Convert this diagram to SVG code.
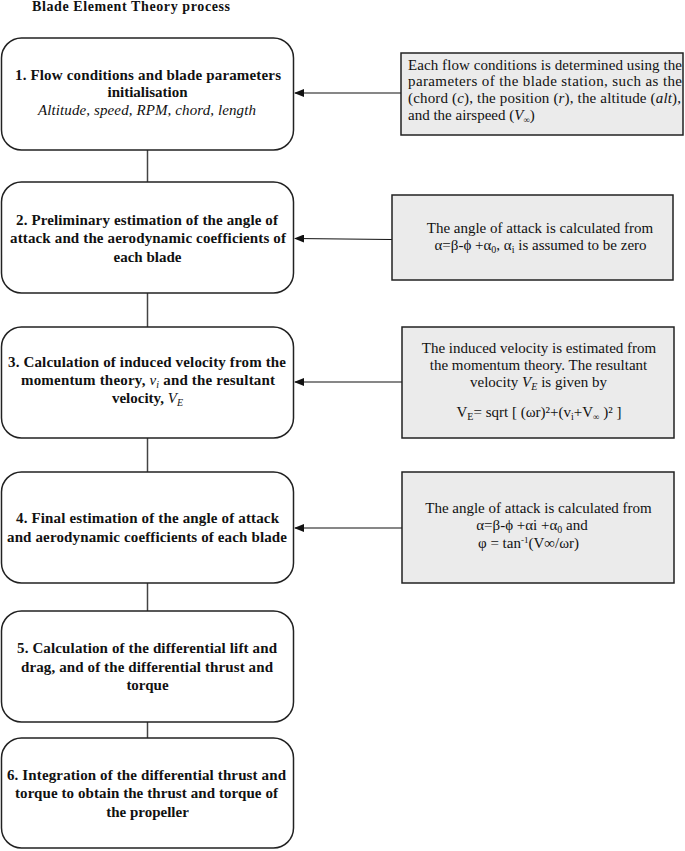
<svg xmlns="http://www.w3.org/2000/svg" width="685" height="851" viewBox="0 0 685 851">
<style>
text{font-family:"Liberation Serif","Times New Roman",serif;font-size:15px;fill:#111}
.t{font-size:14px}
.b{font-weight:bold}
.i{font-style:italic}
.nb{font-weight:normal}
.c{text-anchor:middle}
.step{fill:#fff;stroke:#222;stroke-width:1.5}
.note{fill:#ebebeb;stroke:#222;stroke-width:1.5}
.link{stroke:#444;stroke-width:1.5;fill:none}
.arr{stroke:#111;stroke-width:1.2;fill:none}
</style>
<defs>
<marker id="ah" markerWidth="10" markerHeight="8" refX="9" refY="4" orient="auto" markerUnits="userSpaceOnUse">
<path d="M0,0 L10,4 L0,8 z" fill="#111"/>
</marker>
</defs>
<text class="b t" x="32" y="11" textLength="198" lengthAdjust="spacing">Blade Element Theory process</text>

<g id="connectors">
<line class="link" x1="147.5" y1="150" x2="147.5" y2="182"/>
<line class="link" x1="147.5" y1="293" x2="147.5" y2="327"/>
<line class="link" x1="147.5" y1="438" x2="147.5" y2="472"/>
<line class="link" x1="147.5" y1="583" x2="147.5" y2="611"/>
<line class="link" x1="147.5" y1="722" x2="147.5" y2="738"/>
<line class="arr" x1="401" y1="93" x2="295" y2="93" marker-end="url(#ah)"/>
<line class="arr" x1="392" y1="239.5" x2="295" y2="238.5" marker-end="url(#ah)"/>
<line class="arr" x1="402" y1="382" x2="295" y2="382" marker-end="url(#ah)"/>
<line class="arr" x1="402" y1="528" x2="295" y2="528" marker-end="url(#ah)"/>
</g>

<g id="step1">
<rect class="step" x="1.5" y="38" width="292" height="112" rx="20"/>
<text class="b" x="15" y="80" textLength="266" lengthAdjust="spacing">1. Flow conditions and blade parameters</text>
<text class="b c" x="147.5" y="97">initialisation</text>
<text class="i" x="38" y="115" textLength="218" lengthAdjust="spacing">Altitude, speed, RPM, chord, length</text>
</g>

<g id="step2">
<rect class="step" x="1.5" y="182" width="292" height="111" rx="20"/>
<text class="b" x="16" y="225" textLength="262" lengthAdjust="spacing">2. Preliminary estimation of the angle of</text>
<text class="b" x="10" y="243" textLength="276" lengthAdjust="spacing">attack and the aerodynamic coefficients of</text>
<text class="b c" x="147.5" y="262">each blade</text>
</g>

<g id="step3">
<rect class="step" x="1.5" y="327" width="292" height="111" rx="20"/>
<text class="b" x="8" y="367" textLength="278" lengthAdjust="spacing">3. Calculation of induced velocity from the</text>
<text class="b" x="21" y="385" textLength="254" lengthAdjust="spacing">momentum theory, <tspan class="i nb">v</tspan><tspan class="i nb" font-size="10" dy="3">i</tspan><tspan dy="-3"> and the resultant</tspan></text>
<text class="b c" x="147.5" y="403">velocity, <tspan class="i nb">V</tspan><tspan class="i nb" font-size="10" dy="3">E</tspan></text>
</g>

<g id="step4">
<rect class="step" x="1.5" y="472" width="292" height="111" rx="20"/>
<text class="b" x="16" y="523" textLength="263" lengthAdjust="spacing">4. Final estimation of the angle of attack</text>
<text class="b" x="7" y="542" textLength="280" lengthAdjust="spacing">and aerodynamic coefficients of each blade</text>
</g>

<g id="step5">
<rect class="step" x="1.5" y="611" width="292" height="111" rx="20"/>
<text class="b" x="17" y="653" textLength="260" lengthAdjust="spacing">5. Calculation of the differential lift and</text>
<text class="b" x="21" y="672" textLength="252" lengthAdjust="spacing">drag, and of the differential thrust and</text>
<text class="b c" x="147.5" y="690">torque</text>
</g>

<g id="step6">
<rect class="step" x="1.5" y="738" width="292" height="110" rx="20"/>
<text class="b" x="7" y="780" textLength="279" lengthAdjust="spacing">6. Integration of the differential thrust and</text>
<text class="b" x="15" y="798" textLength="263" lengthAdjust="spacing">torque to obtain the thrust and torque of</text>
<text class="b c" x="147.5" y="817">the propeller</text>
</g>

<g id="noteA">
<rect class="note" x="401" y="53" width="282" height="82"/>
<text x="408" y="70" textLength="274" lengthAdjust="spacing">Each flow conditions is determined using the</text>
<text x="408" y="86" textLength="274" lengthAdjust="spacing">parameters of the blade station, such as the</text>
<text x="408" y="103" textLength="273" lengthAdjust="spacing">(chord (<tspan class="i">c</tspan>), the position (<tspan class="i">r</tspan>), the altitude (<tspan class="i">alt</tspan>),</text>
<text x="408" y="120">and the airspeed (<tspan class="i">V</tspan><tspan font-size="9" dy="3">∞</tspan><tspan dy="-3">)</tspan></text>
</g>

<g id="noteB">
<rect class="note" x="392" y="195" width="281" height="85"/>
<text class="c" x="540" y="233">The angle of attack is calculated from</text>
<text class="c" x="540.5" y="250">α=β-ϕ +α<tspan font-size="10" dy="3">0</tspan><tspan dy="-3">, α</tspan><tspan font-size="10" dy="3">i</tspan><tspan dy="-3"> is  assumed to be zero</tspan></text>
</g>

<g id="noteC">
<rect class="note" x="402" y="327" width="272" height="111"/>
<text class="c" x="539" y="353">The induced velocity is  estimated from</text>
<text class="c" x="538.5" y="370">the momentum theory. The resultant</text>
<text class="c" x="538.5" y="387">velocity <tspan class="i">V</tspan><tspan class="i" font-size="10" dy="3">E</tspan><tspan dy="-3"> is given by</tspan></text>
<text class="c" x="539" y="417">V<tspan font-size="10" dy="3">E</tspan><tspan dy="-3">= sqrt [ (ωr)²+(v</tspan><tspan font-size="10" dy="3">i</tspan><tspan dy="-3">+V</tspan><tspan font-size="9" dy="3">∞</tspan><tspan dy="-3"> )² ]</tspan></text>
</g>

<g id="noteD">
<rect class="note" x="402" y="472" width="272" height="111"/>
<text class="c" x="538.5" y="513">The angle of attack is calculated from</text>
<text class="c" x="532" y="530">α=β-ϕ +αi +α<tspan font-size="10" dy="3">0</tspan><tspan dy="-3"> and</tspan></text>
<text class="c" x="528.5" y="548">φ = tan<tspan font-size="9" dy="-5">-1</tspan><tspan dy="5">(V∞/ωr)</tspan></text>
</g>
</svg>
